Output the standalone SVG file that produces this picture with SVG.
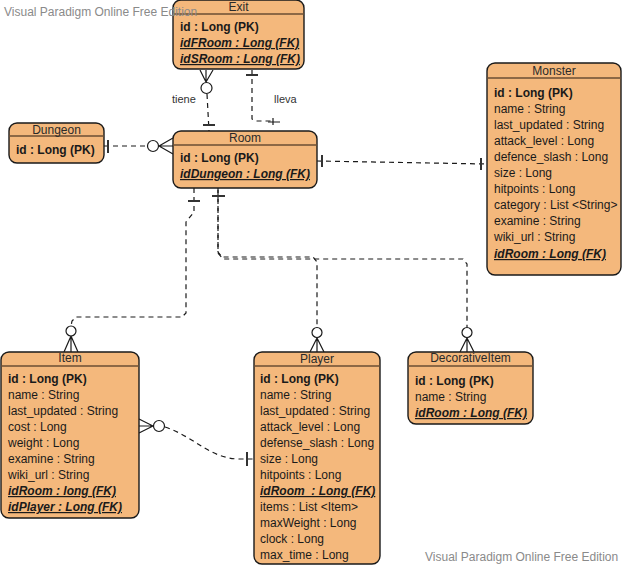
<svg xmlns="http://www.w3.org/2000/svg" width="624" height="566" viewBox="0 0 624 566">
  <style>
    .box { fill: #F4B87C; stroke: #1a1a1a; stroke-width: 1.4; }
    .sep { stroke: #6b4e33; stroke-width: 1.4; }
    .title { font-family: "Liberation Sans", Arial, sans-serif; font-size: 12px; fill: #2a2a2a; text-anchor: middle; }
    .attr { font-family: "Liberation Sans", Arial, sans-serif; font-size: 12px; fill: #1a1a1a; }
    .pk { font-weight: bold; }
    .fk { font-weight: bold; font-style: italic; text-decoration: underline; }
    .conn { fill: none; stroke: #1a1a1a; stroke-width: 1.2; stroke-dasharray: 5 4; }
    .solid { fill: none; stroke: #1a1a1a; stroke-width: 1.2; }
    .bar { stroke: #333; stroke-width: 2; }
    .circ { fill: #fff; stroke: #1a1a1a; stroke-width: 1.2; }
    .lbl { font-family: "Liberation Sans", Arial, sans-serif; font-size: 11px; fill: #333; }
    .wm { font-family: "Liberation Sans", Arial, sans-serif; font-size: 12px; fill: #8a8a8a; }
  </style>

  <!-- connectors -->
  <g id="connectors">
    <!-- Exit - Room (tiene) -->
    <path class="conn" d="M207,94 L209,131"/>
    <line class="bar" x1="203" y1="125" x2="215" y2="125"/>
    <path class="solid" d="M200,70 L206,82 M213,70 L206,82 M206,70 L206,82"/>
    <circle class="circ" cx="206.5" cy="88" r="5.5"/>
    <text class="lbl" x="172" y="103">tiene</text>

    <!-- Exit - Room (lleva) -->
    <path class="conn" d="M252,70 V119 L256,121 H272"/>
    <path class="solid" d="M268,122 H280 M273,118 V125"/>
    <line class="bar" x1="246" y1="75" x2="258" y2="75"/>
    <text class="lbl" x="274" y="103">lleva</text>

    <!-- Dungeon - Room -->
    <path class="conn" d="M104,146 H147"/>
    <line class="bar" x1="108" y1="140" x2="108" y2="153"/>
    <circle class="circ" cx="153" cy="146" r="5.5"/>
    <path class="solid" d="M159,146 L173,138 M159,146 L173,146 M159,146 L173,154"/>

    <!-- Room - Monster -->
    <path class="conn" d="M317,161 L487,164"/>
    <line class="bar" x1="322" y1="155" x2="322" y2="167"/>
    <line class="bar" x1="481" y1="158" x2="481" y2="170"/>

    <!-- Room - Item -->
    <path class="conn" d="M194,188 L194,212 L186,222 L186,313 L182,317 L76,317 L72,321 L71,326"/>
    <line class="bar" x1="188" y1="201" x2="200" y2="201"/>
    <circle class="circ" cx="71" cy="331" r="5"/>
    <path class="solid" d="M71,336 L64,352 M71,336 L71,352 M71,336 L78,352"/>

    <!-- Room - Player -->
    <path class="conn" d="M218,188 V252 L222,257 H313 L317,262 V327"/>
    <!-- Room - DecorativeItem -->
    <path class="conn" d="M218,190 V253 L223,259 H463 L467,264 V327"/>
    <line class="bar" x1="212" y1="196" x2="225" y2="196"/>
    <circle class="circ" cx="317" cy="332.5" r="5"/>
    <path class="solid" d="M317,338 L310,352 M317,338 L317,352 M317,338 L324,352"/>
    <circle class="circ" cx="467" cy="332.5" r="5"/>
    <path class="solid" d="M467,338 L460,352 M467,338 L467,352 M467,338 L474,352"/>

    <!-- Item - Player -->
    <path class="conn" d="M165,427 C195,437 210,459 240,459 H253"/>
    <line class="bar" x1="247" y1="452" x2="247" y2="466"/>
    <circle class="circ" cx="159" cy="426" r="5.5"/>
    <path class="solid" d="M153,426 L139,419 M153,426 L139,426 M153,426 L139,433"/>
  </g>

  <!-- Exit -->
  <g id="exit">
    <rect class="box" x="173" y="0" width="131" height="69" rx="8"/>
    <line class="sep" x1="173" y1="14" x2="304" y2="14"/>
    <text class="title" x="238.5" y="11">Exit</text>
    <text class="attr pk" x="180" y="31">id : Long (PK)</text>
    <text class="attr fk" x="180" y="47">idFRoom : Long (FK)</text>
    <text class="attr fk" x="180" y="63">idSRoom : Long (FK)</text>
  </g>

  <!-- Room -->
  <g id="room">
    <rect class="box" x="173" y="131" width="144" height="57" rx="8"/>
    <line class="sep" x1="173" y1="145" x2="317" y2="145"/>
    <text class="title" x="245" y="142">Room</text>
    <text class="attr pk" x="180" y="162">id : Long (PK)</text>
    <text class="attr fk" x="180" y="178">idDungeon : Long (FK)</text>
  </g>

  <!-- Dungeon -->
  <g id="dungeon">
    <rect class="box" x="9" y="123" width="95" height="40" rx="8"/>
    <line class="sep" x1="9" y1="136" x2="104" y2="136"/>
    <text class="title" x="56.5" y="134">Dungeon</text>
    <text class="attr pk" x="16" y="154">id : Long (PK)</text>
  </g>

  <!-- Monster -->
  <g id="monster">
    <rect class="box" x="487" y="63" width="134" height="212" rx="8"/>
    <line class="sep" x1="487" y1="78" x2="621" y2="78"/>
    <text class="title" x="554" y="75">Monster</text>
    <text class="attr pk" x="494" y="97">id : Long (PK)</text>
    <text class="attr" x="494" y="113">name : String</text>
    <text class="attr" x="494" y="129">last_updated : String</text>
    <text class="attr" x="494" y="145">attack_level : Long</text>
    <text class="attr" x="494" y="161">defence_slash : Long</text>
    <text class="attr" x="494" y="177">size : Long</text>
    <text class="attr" x="494" y="193">hitpoints : Long</text>
    <text class="attr" x="494" y="209">category : List &lt;String&gt;</text>
    <text class="attr" x="494" y="225">examine : String</text>
    <text class="attr" x="494" y="241">wiki_url : String</text>
    <text class="attr fk" x="494" y="258">idRoom : Long (FK)</text>
  </g>

  <!-- Item -->
  <g id="item">
    <rect class="box" x="1" y="352" width="138" height="166" rx="8"/>
    <line class="sep" x1="1" y1="366" x2="139" y2="366"/>
    <text class="title" x="70" y="362">Item</text>
    <text class="attr pk" x="8" y="383">id : Long (PK)</text>
    <text class="attr" x="8" y="399">name : String</text>
    <text class="attr" x="8" y="415">last_updated : String</text>
    <text class="attr" x="8" y="431">cost : Long</text>
    <text class="attr" x="8" y="447">weight : Long</text>
    <text class="attr" x="8" y="463">examine : String</text>
    <text class="attr" x="8" y="479">wiki_url : String</text>
    <text class="attr fk" x="8" y="495">idRoom : long (FK)</text>
    <text class="attr fk" x="8" y="511">idPlayer : Long (FK)</text>
  </g>

  <!-- Player -->
  <g id="player">
    <rect class="box" x="254" y="352" width="126" height="212" rx="8"/>
    <line class="sep" x1="254" y1="366" x2="380" y2="366"/>
    <text class="title" x="317" y="363">Player</text>
    <text class="attr pk" x="260" y="383">id : Long (PK)</text>
    <text class="attr" x="260" y="399">name : String</text>
    <text class="attr" x="260" y="415">last_updated : String</text>
    <text class="attr" x="260" y="431">attack_level : Long</text>
    <text class="attr" x="260" y="447">defense_slash : Long</text>
    <text class="attr" x="260" y="463">size : Long</text>
    <text class="attr" x="260" y="479">hitpoints : Long</text>
    <text class="attr fk" x="260" y="495" xml:space="preserve">idRoom  : Long (FK)</text>
    <text class="attr" x="260" y="511">items : List &lt;Item&gt;</text>
    <text class="attr" x="260" y="527">maxWeight : Long</text>
    <text class="attr" x="260" y="543">clock : Long</text>
    <text class="attr" x="260" y="559">max_time : Long</text>
  </g>

  <!-- DecorativeItem -->
  <g id="decorative-item">
    <rect class="box" x="408" y="352" width="125" height="72" rx="8"/>
    <line class="sep" x1="408" y1="366" x2="533" y2="366"/>
    <text class="title" x="470.5" y="362">DecorativeItem</text>
    <text class="attr pk" x="415" y="385">id : Long (PK)</text>
    <text class="attr" x="415" y="401">name : String</text>
    <text class="attr fk" x="415" y="417">idRoom : Long (FK)</text>
  </g>

  <!-- watermarks -->
  <text class="wm" x="4" y="16">Visual Paradigm Online Free Edition</text>
  <text class="wm" x="425" y="561">Visual Paradigm Online Free Edition</text>
</svg>
